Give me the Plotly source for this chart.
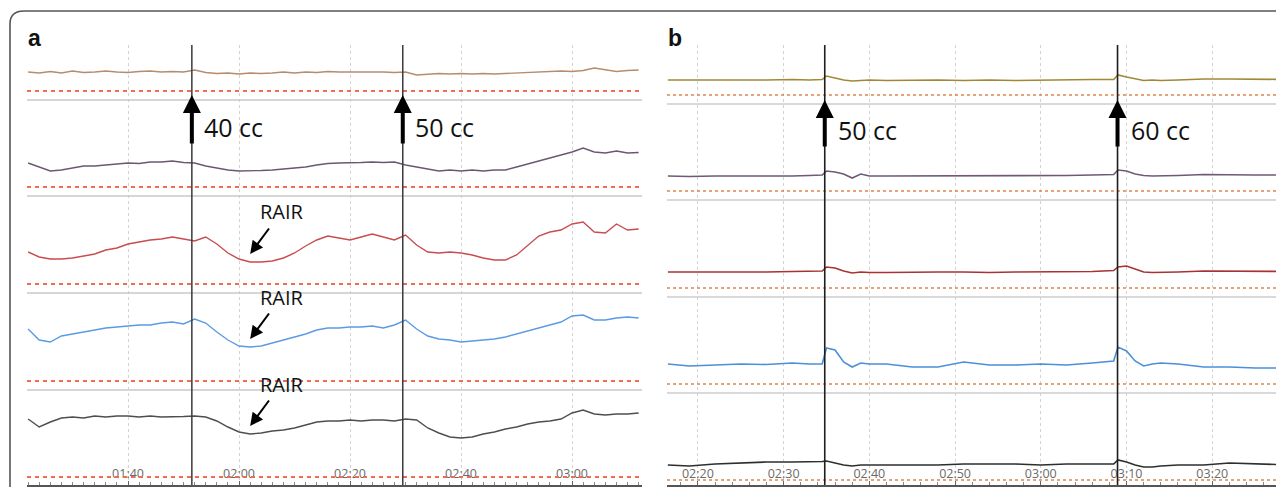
import plotly.graph_objects as go

# ---------------- panel a : balloon 40 cc / 50 cc ----------------
t_a = [82, 84, 86, 88, 90, 92, 94, 96, 98, 100, 102, 104, 106, 108, 110, 112, 114, 116, 118, 120,
       122, 124, 126, 128, 130, 132, 134, 136, 138, 140, 142, 144, 146, 148, 150, 152, 154, 156, 158, 160,
       162, 164, 166, 168, 170, 172, 174, 176, 178, 180, 182, 184, 186, 188, 190, 192]

a_ch1 = [19, 18, 19.5, 18, 20, 18.5, 19, 20, 19, 18.5, 19.5, 20, 19, 19.5, 19, 21, 18.5, 17.5, 18, 17,
         18, 17.5, 18, 19, 18, 19, 18.5, 19.5, 19, 19, 19.5, 19, 19, 18.5, 19, 16, 16.5, 17.5, 17, 17.5,
         17, 17.5, 17, 17.5, 18, 19, 19.5, 20, 20, 19.5, 20.5, 23, 21, 19.5, 20.5, 21]
a_ch2 = [24, 20, 16, 17, 19, 21, 21, 22, 23, 24, 23.5, 25, 25, 26, 24.5, 24, 21, 19, 17, 16,
         16, 16.5, 17, 18, 19, 20, 22, 23.5, 24, 24, 24.5, 25, 24.5, 25, 22, 20, 18, 16, 17, 16,
         17, 16, 17, 17, 20, 23, 26, 29, 32, 35, 39, 35, 34, 36, 34, 34.5]
a_ch3 = [32, 27, 25, 25, 26, 28, 30, 34, 36, 40, 42, 44, 45, 47, 45, 43, 47, 40, 31, 25,
         22, 22, 23, 26, 31, 38, 44, 48, 46, 44, 47, 50, 47, 44, 49, 39, 32, 31, 32, 31,
         29, 26, 24, 24, 29, 39, 48, 52, 54, 60, 62, 52, 51, 60, 54, 55]
a_ch4 = [52, 41, 39, 45, 47, 49, 51, 53, 54, 55, 56, 56, 58, 59, 57, 62, 58, 49, 41, 35,
         34, 35, 38, 41, 44, 47, 51, 53, 53, 54, 54, 55, 53, 56, 61, 52, 45, 42, 41, 39,
         40, 41, 42, 44, 47, 50, 53, 56, 59, 65, 66, 61, 61, 63, 64, 63]
a_ch5 = [58, 50, 55, 59, 60, 59, 61, 60, 61, 61, 60, 61, 60, 60, 60.5, 61, 60, 56, 50, 45,
         43, 44, 46, 47, 49, 52, 55, 56, 56, 57, 56, 57, 57, 56, 58, 57, 49, 44, 40, 39,
         40, 43, 45, 48, 50, 53, 55, 56, 58, 64, 67, 63, 62, 63, 63, 64]

ev_a = [111.5, 149.5]
ev_a_lbl = ["40 cc", "50 cc"]
rair_t = 122
tick_a = [100, 120, 140, 160, 180]
tick_a_lbl = ["01:40", "02:00", "02:20", "02:40", "03:00"]

# ---------------- panel b : balloon 50 cc / 60 cc ----------------
t_b = [136.5, 139, 142, 145, 148, 151, 153, 154.5, 155, 156, 157, 158, 159, 160, 162, 165, 168, 171,
       174, 177, 180, 183, 186, 188.5, 189, 190, 191, 192, 193, 194, 196, 199, 202, 205, 209.3]

b_ch1 = [15, 15, 15, 14.5, 15, 15.5, 15, 15.5, 19, 17, 15, 14, 14.5, 15, 14.5, 15, 15, 14.5,
         15, 14.5, 15, 15, 15.5, 15.5, 20, 18, 16, 14.5, 15, 14.5, 15, 16, 16, 15.5, 15.5]
b_ch2 = [15, 14.5, 15, 15, 14.5, 15, 15.5, 16, 20, 19, 17, 13, 17, 15, 15, 15, 15.5, 15,
         15, 15, 15, 15.5, 16, 16.5, 21, 20, 17, 15.5, 15, 15, 15.5, 16.5, 16, 16, 16]
b_ch3 = [16, 16, 15.5, 16, 16, 16.5, 16.5, 17, 21, 20, 17, 15, 16, 15.5, 15.5, 16, 16, 16,
         15.5, 16, 16, 16.5, 16.5, 17.5, 21, 22, 19, 16, 15.5, 15.5, 16, 17, 17, 16.5, 16.5]
b_ch4 = [20, 18, 19, 20, 19.5, 21, 20, 20, 36, 34, 22, 17, 21, 20, 20, 17, 17, 22,
         19, 19, 20, 19, 21, 23, 37, 33, 23, 18, 20, 21, 20, 17, 17, 16, 16]
b_ch5 = [15, 14, 16, 17, 18, 18, 18, 18.5, 19, 17, 15, 14, 15, 15, 15, 15, 15, 16,
         16, 16, 15, 16, 16, 16, 20, 18, 15, 13, 13, 14, 15, 15, 17, 16, 15]

ev_b = [154.8, 188.95]
ev_b_lbl = ["50 cc", "60 cc"]
tick_b = [140, 150, 160, 170, 180, 190, 200]
tick_b_lbl = ["02:20", "02:30", "02:40", "02:50", "03:00", "03:10", "03:20"]

# channel layout (baseline of each channel, top to bottom)
lvl_a = [394, 298, 201, 104, 8]
lvl_b = [390, 294, 197, 101, 5]
col_a = ["#b68c6c", "#6a5870", "#c94c4e", "#5a9be4", "#4e4e4e"]
col_b = ["#a08936", "#6e5a76", "#a83234", "#4b90d9", "#2e2e2e"]

# the page body adds an 8px offset, so layout positions are given in screen px minus that
W, H, OFF = 1284, 487, 8


def px(x):
    return (x - OFF) / W


def py(y):
    return 1 - (y - OFF) / H


fig = go.Figure()

for vals, lv, c in zip([a_ch1, a_ch2, a_ch3, a_ch4, a_ch5], lvl_a, col_a):
    fig.add_trace(go.Scatter(x=t_a, y=[lv + v for v in vals], mode="lines",
                             line=dict(color=c, width=1.4), xaxis="x", yaxis="y", hoverinfo="skip"))
for vals, lv, c in zip([b_ch1, b_ch2, b_ch3, b_ch4, b_ch5], lvl_b, col_b):
    fig.add_trace(go.Scatter(x=t_b, y=[lv + v for v in vals], mode="lines",
                             line=dict(color=c, width=1.6), xaxis="x2", yaxis="y2", hoverinfo="skip"))

shapes = []
# baselines: dotted zero line + gray separator under each channel
for i, lv in enumerate(lvl_a):
    shapes.append(dict(type="line", xref="x domain", yref="y", x0=0, x1=1, y0=lv, y1=lv,
                       line=dict(color="#f26a50", width=1.8, dash="4px,4px")))
    if i < 4:
        shapes.append(dict(type="line", xref="x domain", yref="y", x0=0, x1=1, y0=lv - 9, y1=lv - 9,
                           line=dict(color="#c8c8c8", width=1.6)))
for i, lv in enumerate(lvl_b):
    shapes.append(dict(type="line", xref="x2 domain", yref="y2", x0=0, x1=1, y0=lv, y1=lv,
                       line=dict(color="#e0854c", width=1.3, dash="3px,3px")))
    if i < 4:
        shapes.append(dict(type="line", xref="x2 domain", yref="y2", x0=0, x1=1, y0=lv - 9, y1=lv - 9,
                           line=dict(color="#cccccc", width=1.6)))

# event markers
for e in ev_a:
    shapes.append(dict(type="line", xref="x", yref="y domain", x0=e, x1=e, y0=0, y1=1,
                       line=dict(color="#3a3a3a", width=1.5)))
for e in ev_b:
    shapes.append(dict(type="line", xref="x2", yref="y2 domain", x0=e, x1=e, y0=0, y1=1,
                       line=dict(color="#1e1e1e", width=1.6)))

# rounded frame
shapes.append(dict(type="path", xref="paper", yref="paper",
                   path=f"M {px(10)},-0.05 L {px(10)},{py(24)} Q {px(10)},{py(11)} {px(24)},{py(11)} L 1.05,{py(11)}",
                   line=dict(color="#555555", width=1.6)))

ann = []
txt_font = dict(family="Open Sans, Noto Sans, sans-serif", size=25, color="#111111")
for e, lbl in zip(ev_a, ev_a_lbl):
    ann.append(dict(x=e, y=390, xref="x", yref="y", text="", showarrow=True, ax=0, ay=50,
                    arrowhead=2, arrowsize=0.9, arrowwidth=4, arrowcolor="#000000"))
    ann.append(dict(x=e, y=358, xref="x", yref="y", text=lbl, showarrow=False,
                    xanchor="left", yanchor="middle", xshift=10, font=txt_font))
for e, lbl in zip(ev_b, ev_b_lbl):
    ann.append(dict(x=e, y=385, xref="x2", yref="y2", text="", showarrow=True, ax=0, ay=48,
                    arrowhead=2, arrowsize=0.9, arrowwidth=4, arrowcolor="#000000"))
    ann.append(dict(x=e, y=355, xref="x2", yref="y2", text=lbl, showarrow=False,
                    xanchor="left", yanchor="middle", xshift=11, font=txt_font))

# RAIR arrows on the three lower channels of panel a
for vals, lv in zip([a_ch3, a_ch4, a_ch5], lvl_a[2:]):
    yv = lv + vals[t_a.index(rair_t)] + 8
    ann.append(dict(x=rair_t, y=yv, xref="x", yref="y", text="", showarrow=True, ax=20, ay=-27,
                    arrowhead=2, arrowsize=1.3, arrowwidth=2, arrowcolor="#000000"))
    ann.append(dict(x=rair_t, y=yv, xref="x", yref="y", text="RAIR", showarrow=False,
                    xshift=32, yshift=42, font=dict(family="Open Sans, sans-serif", size=20, color="#111111")))

# panel letters
for lbl, xl in [("a", 26), ("b", 666)]:
    ann.append(dict(x=px(xl), y=py(38), xref="paper", yref="paper", text=f"<b>{lbl}</b>",
                    showarrow=False, xanchor="left", yanchor="middle",
                    font=dict(family="Liberation Sans, Arial, sans-serif", size=23, color="#111111")))

xcommon = dict(showgrid=True, gridcolor="#d2d2d2", griddash="dot", gridwidth=1, zeroline=False,
               showline=True, linecolor="#555555", linewidth=1.5, ticks="inside", ticklen=4,
               tickcolor="#666666", ticklabelposition="inside",
               tickfont=dict(family="Open Sans, sans-serif", size=12.5, color="#6a6a6a"),
               minor=dict(dtick=2, ticks="inside", ticklen=3, tickcolor="#888888", showgrid=False),
               fixedrange=True)
ycommon = dict(range=[0, 440], showgrid=False, zeroline=False, showticklabels=False,
               showline=False, fixedrange=True, domain=[1 - (485 - OFF) / H, 1 - (45 - OFF) / H])

fig.update_layout(
    width=W, height=H,
    margin=dict(l=0, r=0, t=0, b=0),
    paper_bgcolor="white", plot_bgcolor="white",
    showlegend=False,
    xaxis=dict(domain=[px(27), px(642)], range=[81.8, 192.6],
               tickvals=tick_a, ticktext=tick_a_lbl, anchor="y", **xcommon),
    yaxis=dict(anchor="x", **ycommon),
    xaxis2=dict(domain=[px(667), 1], range=[136.4, 209.3],
                tickvals=tick_b, ticktext=tick_b_lbl, anchor="y2", **xcommon),
    yaxis2=dict(anchor="x2", **ycommon),
    shapes=shapes,
    annotations=ann,
)

fig.write_html("out.html")
